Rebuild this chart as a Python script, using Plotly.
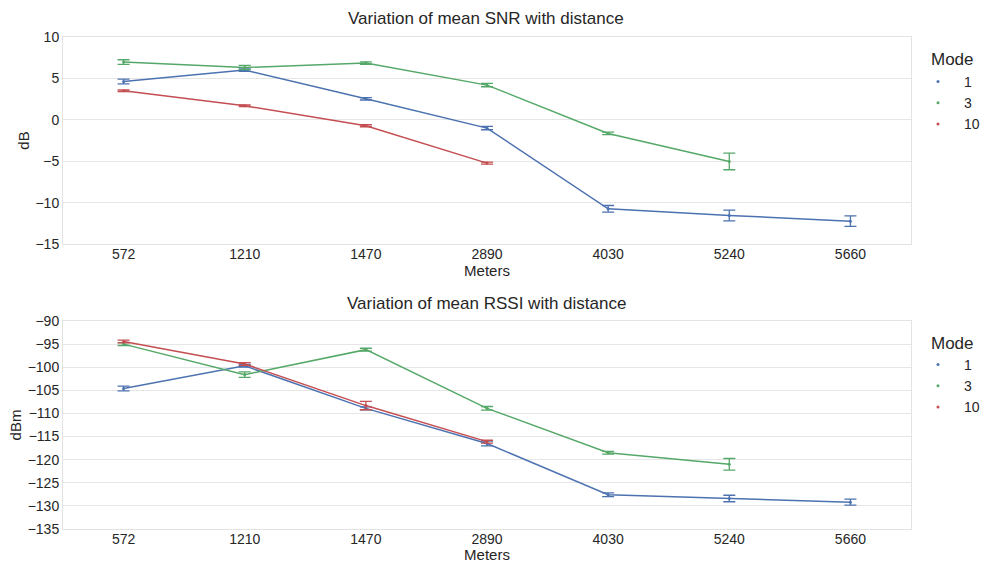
import plotly.graph_objects as go

categories = ["572", "1210", "1470", "2890", "4030", "5240", "5660"]
modes = ["1", "3", "10"]
colors = {"1": "#4C72B0", "3": "#55A868", "10": "#C44E52"}

# SNR (dB)
snr_x = {
    "1": ["572", "1210", "1470", "2890", "4030", "5240", "5660"],
    "3": ["572", "1210", "1470", "2890", "4030", "5240"],
    "10": ["572", "1210", "1470", "2890"],
}
snr_mean = {
    "1": [4.63, 6.0, 2.54, -1.0, -10.75, -11.55, -12.24],
    "3": [6.97, 6.32, 6.85, 4.19, -1.65, -5.03],
    "10": [3.50, 1.69, -0.72, -5.23],
}
snr_err = {
    "1": [0.28, 0.15, 0.15, 0.2, 0.4, 0.65, 0.63],
    "3": [0.28, 0.25, 0.15, 0.2, 0.15, 1.0],
    "10": [0.1, 0.1, 0.12, 0.12],
}

# RSSI (dBm)
rssi_x = snr_x
rssi_mean = {
    "1": [-104.6, -99.7, -108.9, -116.5, -127.6, -128.4, -129.2],
    "3": [-95.0, -101.6, -96.2, -108.9, -118.5, -121.0],
    "10": [-94.44, -99.3, -108.3, -116.1],
}
rssi_err = {
    "1": [0.5, 0.3, 0.3, 0.5, 0.4, 0.7, 0.65],
    "3": [0.3, 0.6, 0.3, 0.4, 0.3, 1.25],
    "10": [0.3, 0.3, 0.9, 0.3],
}

FONT = "Liberation Sans, Arial, sans-serif"
TXT = "#262626"

fig = go.Figure()

def add_panel(xs, means, errs, xaxis, yaxis, legend):
    for m in modes:
        fig.add_trace(go.Scatter(
            x=xs[m], y=means[m], mode="lines+markers",
            line=dict(color=colors[m], width=1.5),
            marker=dict(color=colors[m], size=3),
            error_y=dict(type="data", array=errs[m], visible=True,
                         color=colors[m], thickness=1.3, width=6),
            xaxis=xaxis, yaxis=yaxis, showlegend=False, name=m,
        ))
    for m in modes:
        fig.add_trace(go.Scatter(
            x=[None], y=[None], mode="markers",
            marker=dict(color=colors[m], size=3),
            xaxis=xaxis, yaxis=yaxis, name=m, legend=legend, showlegend=True,
        ))

add_panel(snr_x, snr_mean, snr_err, "x", "y", "legend")
add_panel(rssi_x, rssi_mean, rssi_err, "x2", "y2", "legend2")

H = 563.0
W = 984.0
top_dom = [(H - 244) / H, (H - 37) / H]
bot_dom = [(H - 529) / H, (H - 321) / H]
x_dom = [63 / W, 911 / W]

axis_common = dict(
    showline=True, mirror=True, linecolor="#e3e3e3", linewidth=1,
    ticks="", tickfont=dict(size=14, color=TXT, family=FONT),
    zeroline=False, automargin=False,
)

neg = lambda v: ("\u2212" + str(-v)) if v < 0 else str(v)
snr_ticks = [-15, -10, -5, 0, 5, 10]
rssi_ticks = [-135, -130, -125, -120, -115, -110, -105, -100, -95, -90]

fig.update_layout(
    width=984, height=563,
    margin=dict(l=0, r=0, t=0, b=0, autoexpand=False),
    paper_bgcolor="white", plot_bgcolor="white",
    font=dict(family=FONT, color=TXT),
    xaxis=dict(domain=x_dom, anchor="y", type="category",
               categoryorder="array", categoryarray=categories,
               range=[-0.5, 6.5], showgrid=False, ticklabelstandoff=-3,
               title=dict(text="Meters", font=dict(size=15, color=TXT), standoff=0),
               **axis_common),
    yaxis=dict(domain=top_dom, anchor="x", range=[-15, 10],
               tickvals=snr_ticks, ticktext=[neg(v) for v in snr_ticks],
               showgrid=True, gridcolor="#e6e6e6",
               title=dict(text="dB", font=dict(size=15, color=TXT), standoff=2),
               **axis_common),
    xaxis2=dict(domain=x_dom, anchor="y2", type="category",
                categoryorder="array", categoryarray=categories,
                range=[-0.5, 6.5], showgrid=False, ticklabelstandoff=-3,
                title=dict(text="Meters", font=dict(size=15, color=TXT), standoff=0),
                **axis_common),
    yaxis2=dict(domain=bot_dom, anchor="x2", range=[-135, -90],
                tickvals=rssi_ticks, ticktext=[neg(v) for v in rssi_ticks],
                showgrid=True, gridcolor="#e6e6e6",
                title=dict(text="dBm", font=dict(size=15, color=TXT), standoff=2),
                **axis_common),
    legend=dict(x=912 / W, y=1 - 66 / H, xanchor="left", yanchor="top",
                font=dict(size=14, color=TXT), bgcolor="rgba(0,0,0,0)",
                itemwidth=42, tracegroupgap=0),
    legend2=dict(x=912 / W, y=1 - 349 / H, xanchor="left", yanchor="top",
                 font=dict(size=14, color=TXT), bgcolor="rgba(0,0,0,0)",
                 itemwidth=42, tracegroupgap=0),
    annotations=[
        dict(text="Variation of mean SNR with distance", x=0.494, y=1 - 19 / H,
             xref="paper", yref="paper", showarrow=False,
             font=dict(size=17, color=TXT), xanchor="center", yanchor="middle"),
        dict(text="Variation of mean RSSI with distance", x=0.494, y=1 - 303 / H,
             xref="paper", yref="paper", showarrow=False,
             font=dict(size=17, color=TXT), xanchor="center", yanchor="middle"),
        dict(text="Mode", x=929 / W, y=1 - 59 / H,
             xref="paper", yref="paper", showarrow=False,
             font=dict(size=17, color=TXT), xanchor="left", yanchor="middle"),
        dict(text="Mode", x=929 / W, y=1 - 343 / H,
             xref="paper", yref="paper", showarrow=False,
             font=dict(size=17, color=TXT), xanchor="left", yanchor="middle"),
    ],
)

fig.write_html("out.html", config={"displayModeBar": False},
               post_script="document.body.style.margin='0';document.body.style.overflow='hidden';")
